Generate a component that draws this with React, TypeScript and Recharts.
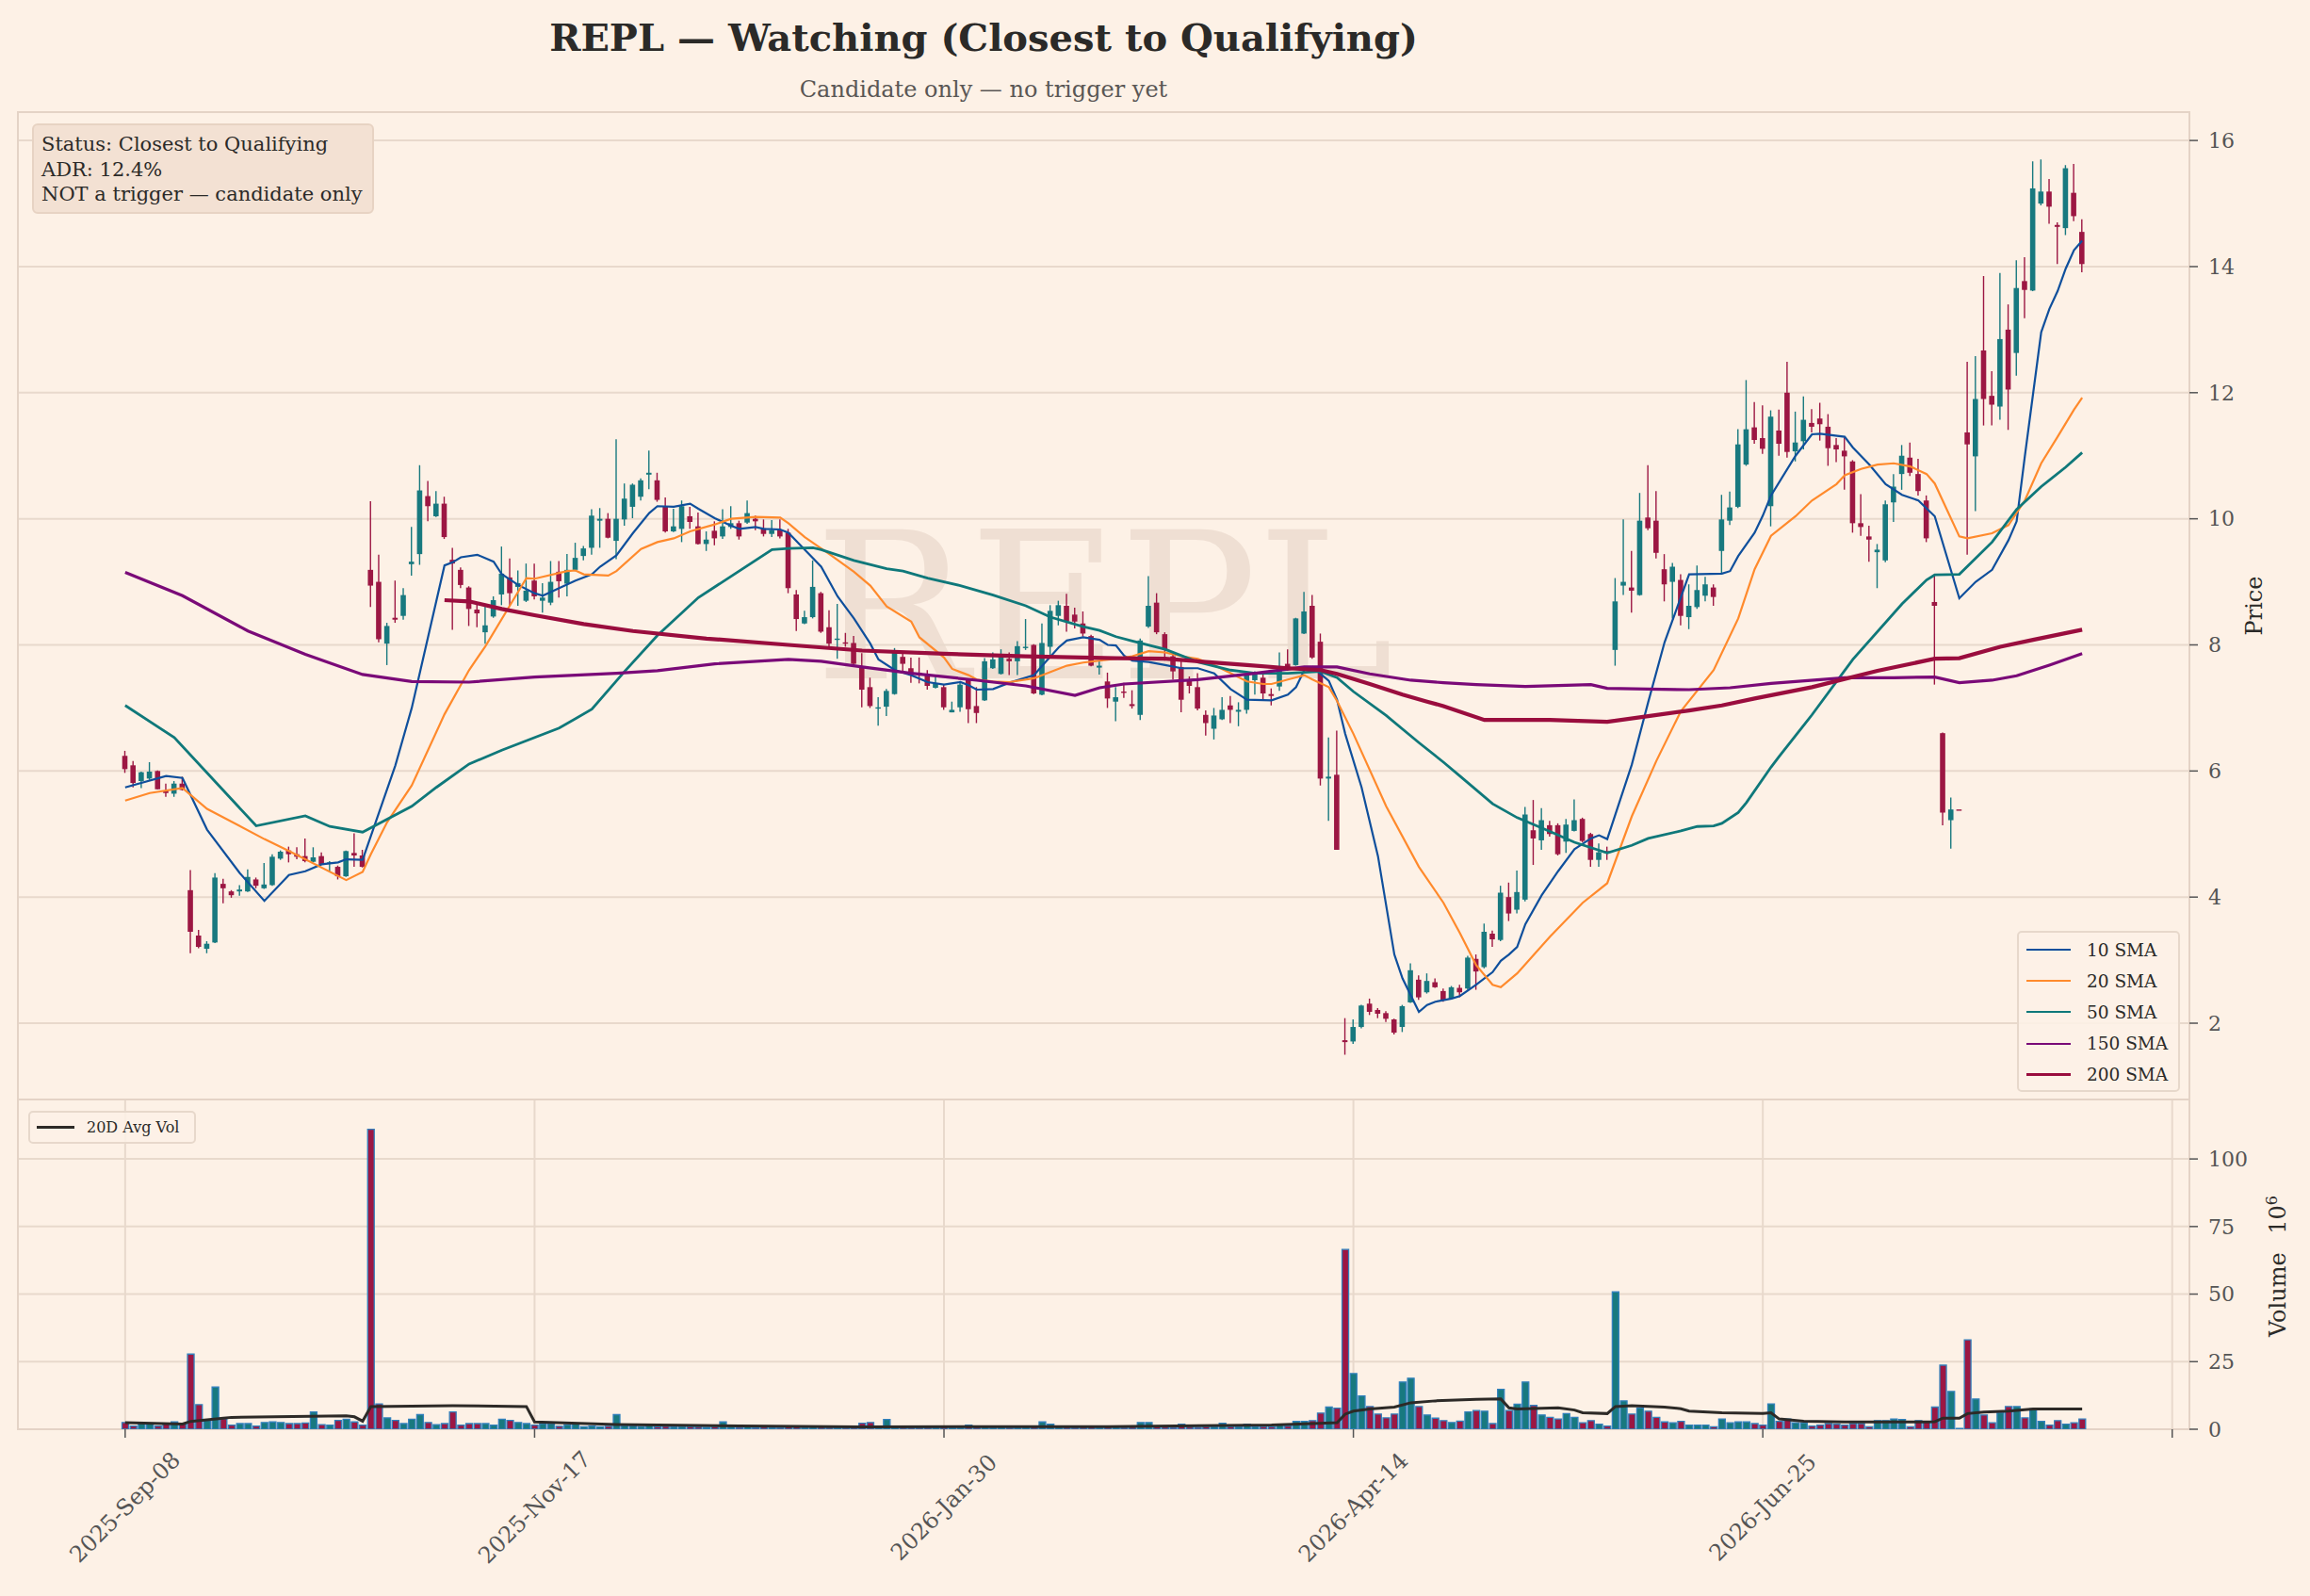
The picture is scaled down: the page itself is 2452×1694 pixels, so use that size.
import React from "react";
import {
  Bar,
  CartesianGrid,
  Cell,
  ComposedChart,
  Line,
  ReferenceArea,
  XAxis,
  YAxis,
} from "recharts";

// bar index 0..239, ticks every 50 bars
const DATE_TICKS = [0, 50, 100, 150, 200, 250];
const DATE_LABELS = ["2025-Sep-08", "2025-Nov-17", "2026-Jan-30", "2026-Apr-14", "2026-Jun-25", ""];
const PRICE_TICKS = [2, 4, 6, 8, 10, 12, 14, 16];
const VOLUME_TICKS = [0, 25, 50, 75, 100];

const OPEN = [
  6.24, 6.09, 5.84, 5.88, 6.0, 5.69, 5.64, 5.8, 4.11, 3.39,
  3.18, 3.28, 4.21, 4.09, 4.09, 4.09, 4.28, 4.14, 4.19, 4.61,
  4.74, 4.68, 4.65, 4.56, 4.65, 4.53, 4.48, 4.33, 4.7, 4.66,
  9.19, 9.0, 8.02, 8.43, 8.46, 9.28, 9.44, 10.36, 10.04, 10.24,
  9.35, 9.19, 8.91, 8.56, 8.2, 8.45, 8.8, 9.07, 8.92, 8.7,
  9.02, 8.7, 8.67, 9.16, 8.97, 9.19, 9.41, 9.54, 9.97, 10.0,
  9.65, 9.99, 10.19, 10.35, 10.7, 10.61, 10.2, 9.8, 9.84, 10.04,
  9.88, 9.6, 9.81, 9.72, 9.87, 9.93, 9.94, 10.0, 9.85, 9.76,
  9.83, 9.78, 8.8, 8.34, 8.44, 8.82, 8.28, 8.08, 8.04, 8.03,
  7.65, 7.33, 6.99, 7.02, 7.22, 7.81, 7.63, 7.56, 7.53, 7.32,
  7.33, 6.93, 7.01, 7.46, 7.03, 7.12, 7.63, 7.54, 7.78, 7.74,
  7.95, 8.0, 7.21, 7.97, 8.46, 8.62, 8.48, 8.34, 8.14, 7.64,
  7.42, 7.1, 7.26, 7.06, 6.89, 8.29, 8.67, 8.17, 7.82, 7.65,
  7.45, 7.33, 6.89, 6.67, 6.82, 7.04, 6.94, 6.97, 7.44, 7.48,
  7.22, 7.34, 7.7, 7.68, 8.18, 8.62, 8.05, 5.88, 5.94, 1.73,
  1.71, 1.94, 2.31, 2.21, 2.16, 2.06, 1.94, 2.33, 2.69, 2.49,
  2.65, 2.51, 2.39, 2.56, 2.55, 3.02, 2.89, 3.42, 3.32, 4.0,
  3.8, 3.96, 5.06, 4.9, 5.14, 5.14, 4.88, 5.05, 5.24, 5.0,
  4.59, 4.73, 7.92, 8.94, 8.91, 8.79, 10.02, 9.97, 9.2, 9.0,
  9.03, 8.44, 8.6, 8.78, 8.91, 9.49, 9.97, 10.19, 10.86, 11.45,
  11.28, 10.2, 11.4, 12.0, 11.07, 11.23, 11.52, 11.59, 11.46, 11.17,
  11.08, 10.91, 9.93, 9.72, 9.47, 9.34, 10.26, 10.71, 10.97, 10.71,
  10.29, 8.68, 6.6, 5.22, 5.39, 11.37, 10.99, 12.67, 11.95, 11.78,
  13.0, 12.63, 13.77, 13.62, 15.0, 15.19, 14.66, 14.61, 15.17, 14.55,
];

const HIGH = [
  6.32, 6.16, 5.99, 6.14, 6.01, 5.8, 5.84, 5.91, 4.43, 3.48,
  3.3, 4.38, 4.29, 4.11, 4.19, 4.44, 4.31, 4.54, 4.68, 4.74,
  4.8, 4.79, 4.93, 4.79, 4.71, 4.57, 4.5, 4.74, 5.01, 4.75,
  10.28, 9.43, 8.35, 9.02, 8.9, 9.87, 10.85, 10.6, 10.44, 10.35,
  9.54, 9.23, 8.93, 8.67, 8.61, 8.77, 9.56, 9.37, 9.18, 9.29,
  9.29, 8.98, 9.33, 9.33, 9.44, 9.62, 9.57, 10.15, 10.17, 10.09,
  11.26, 10.56, 10.56, 10.64, 11.08, 10.73, 10.34, 10.16, 10.29, 10.19,
  10.1, 9.8, 9.96, 10.15, 10.2, 9.97, 10.29, 10.05, 9.99, 9.98,
  9.99, 9.84, 8.87, 8.54, 9.34, 8.84, 8.55, 8.65, 8.19, 8.14,
  7.87, 7.48, 7.17, 7.3, 7.95, 7.9, 7.8, 7.8, 7.6, 7.5,
  7.38, 7.1, 7.4, 7.47, 7.33, 7.79, 7.88, 7.93, 7.88, 8.06,
  8.41, 8.01, 8.34, 8.63, 8.7, 8.81, 8.59, 8.53, 8.16, 7.75,
  7.56, 7.33, 7.4, 7.28, 8.1, 9.09, 8.82, 8.2, 7.85, 7.75,
  7.5, 7.55, 6.96, 7.0, 7.17, 7.19, 7.09, 7.57, 7.58, 7.53,
  7.31, 7.88, 7.93, 8.43, 8.84, 8.79, 8.18, 6.53, 6.64, 2.08,
  2.06, 2.29, 2.39, 2.24, 2.19, 2.07, 2.29, 2.95, 2.76, 2.79,
  2.71, 2.55, 2.59, 2.61, 3.07, 3.09, 3.58, 3.47, 4.18, 4.23,
  4.42, 5.43, 5.54, 5.41, 5.21, 5.17, 5.24, 5.55, 5.26, 5.02,
  4.85, 4.8, 9.06, 9.99, 9.49, 10.41, 10.85, 10.44, 9.44, 9.3,
  9.12, 8.96, 9.26, 9.08, 8.96, 10.38, 10.43, 11.42, 12.2, 11.85,
  11.8, 11.72, 11.73, 12.49, 11.7, 11.94, 11.74, 11.84, 11.66, 11.28,
  11.29, 10.93, 10.39, 9.89, 9.6, 10.29, 10.71, 11.17, 11.21, 10.95,
  10.37, 9.12, 6.61, 5.58, 5.39, 12.49, 12.58, 13.85, 12.34, 13.9,
  13.4, 14.1, 14.15, 15.67, 15.7, 15.39, 14.7, 15.61, 15.63, 14.75,
];

const LOW = [
  5.97, 5.74, 5.73, 5.86, 5.71, 5.59, 5.59, 5.69, 3.11, 3.19,
  3.11, 3.27, 3.9, 3.99, 4.02, 4.08, 4.14, 4.13, 4.18, 4.59,
  4.55, 4.6, 4.55, 4.55, 4.51, 4.4, 4.28, 4.32, 4.48, 4.47,
  8.6, 8.04, 7.68, 8.35, 8.4, 9.1, 9.27, 9.96, 10.03, 9.68,
  8.24, 8.9, 8.3, 8.28, 8.02, 8.43, 8.63, 8.62, 8.62, 8.68,
  8.72, 8.51, 8.63, 8.75, 8.77, 9.17, 9.34, 9.43, 9.54, 9.69,
  9.36, 9.89, 10.01, 10.29, 10.47, 10.27, 9.78, 9.79, 9.63, 9.84,
  9.59, 9.49, 9.58, 9.68, 9.84, 9.67, 9.92, 9.82, 9.72, 9.71,
  9.69, 8.82, 8.22, 8.33, 8.42, 8.19, 7.97, 7.78, 7.97, 7.65,
  7.01, 7.0, 6.72, 6.87, 7.21, 7.57, 7.4, 7.39, 7.29, 7.31,
  6.97, 6.93, 6.94, 6.76, 6.76, 7.11, 7.62, 7.53, 7.52, 7.52,
  7.92, 7.22, 7.2, 7.82, 8.31, 8.21, 8.26, 8.13, 7.66, 7.53,
  7.0, 6.79, 7.16, 6.99, 6.81, 8.27, 8.17, 7.75, 7.45, 6.93,
  7.23, 6.96, 6.56, 6.5, 6.81, 6.76, 6.71, 6.91, 7.21, 7.14,
  7.04, 7.27, 7.59, 7.67, 8.17, 7.78, 5.77, 5.21, 4.75, 1.5,
  1.67, 1.92, 2.13, 2.08, 2.02, 1.82, 1.86, 2.32, 2.37, 2.47,
  2.56, 2.34, 2.38, 2.41, 2.53, 2.53, 2.87, 3.21, 3.3, 3.62,
  3.74, 3.93, 4.51, 4.75, 4.96, 4.66, 4.7, 5.04, 4.87, 4.48,
  4.48, 4.59, 7.67, 8.79, 8.51, 8.78, 9.82, 9.37, 8.69, 8.42,
  8.31, 8.25, 8.57, 8.69, 8.62, 9.13, 9.9, 10.17, 10.84, 11.19,
  11.03, 9.88, 11.0, 10.97, 10.91, 11.1, 11.37, 11.24, 10.84, 10.9,
  10.46, 9.78, 9.73, 9.32, 8.9, 9.31, 9.95, 10.46, 10.68, 10.37,
  9.63, 7.37, 5.14, 4.77, 5.39, 9.43, 10.12, 11.48, 11.48, 11.57,
  11.41, 12.27, 13.18, 13.61, 14.97, 14.68, 14.04, 14.5, 14.72, 13.91,
];

const CLOSE = [
  6.03, 5.81, 5.98, 5.99, 5.71, 5.65, 5.8, 5.7, 3.45, 3.21,
  3.26, 4.31, 4.14, 4.03, 4.12, 4.32, 4.18, 4.2, 4.64, 4.72,
  4.68, 4.64, 4.57, 4.63, 4.52, 4.55, 4.33, 4.73, 4.66, 4.48,
  8.94, 8.09, 8.3, 8.4, 8.79, 9.32, 10.45, 10.2, 10.24, 9.71,
  9.29, 8.95, 8.57, 8.5, 8.31, 8.71, 9.13, 8.82, 8.98, 8.86,
  8.77, 8.75, 9.0, 9.01, 9.19, 9.38, 9.53, 10.05, 10.0, 9.7,
  10.0, 10.32, 10.54, 10.61, 10.73, 10.3, 9.8, 9.88, 10.2, 9.95,
  9.6, 9.67, 9.69, 9.88, 9.93, 9.72, 10.09, 9.96, 9.76, 9.82,
  9.72, 8.9, 8.41, 8.44, 8.92, 8.21, 8.02, 8.1, 8.02, 7.7,
  7.29, 7.03, 7.01, 7.27, 7.9, 7.7, 7.52, 7.52, 7.35, 7.39,
  7.01, 6.97, 7.37, 6.98, 6.92, 7.74, 7.77, 7.81, 7.74, 7.98,
  7.97, 7.23, 8.03, 8.54, 8.63, 8.37, 8.37, 8.18, 7.67, 7.67,
  7.15, 7.17, 7.24, 7.03, 8.07, 8.62, 8.2, 7.93, 7.58, 7.13,
  7.35, 6.99, 6.76, 6.88, 6.97, 6.97, 6.97, 7.52, 7.53, 7.23,
  7.19, 7.64, 7.6, 8.42, 8.53, 7.8, 5.88, 5.91, 4.75, 1.7,
  1.94, 2.28, 2.18, 2.15, 2.07, 1.85, 2.27, 2.84, 2.41, 2.67,
  2.57, 2.36, 2.57, 2.49, 3.04, 2.82, 3.45, 3.33, 4.07, 3.74,
  4.08, 5.31, 4.93, 5.22, 5.0, 4.68, 5.15, 5.22, 4.89, 4.59,
  4.71, 4.71, 8.69, 9.0, 8.86, 9.97, 9.85, 9.46, 8.96, 9.24,
  8.46, 8.62, 8.87, 8.96, 8.76, 9.99, 10.18, 11.18, 11.42, 11.25,
  11.11, 11.62, 11.19, 11.06, 11.21, 11.57, 11.46, 11.5, 11.12, 11.1,
  10.99, 9.93, 9.87, 9.67, 9.51, 10.23, 10.51, 11.0, 10.73, 10.44,
  9.69, 8.62, 5.34, 5.39, 5.39, 11.18, 11.9, 11.9, 11.81, 12.85,
  12.05, 13.66, 13.63, 15.24, 15.19, 14.95, 14.63, 15.56, 14.8, 14.04,
];

// millions of shares
const VOLUME = [
  2.5, 1.2, 2.1, 2.1, 1.2, 2.1, 2.7, 2.1, 27.8, 9.1,
  3.3, 15.6, 3.9, 1.5, 2.1, 2.1, 1.2, 2.5, 2.7, 2.5,
  2.1, 2.1, 2.3, 6.4, 1.7, 1.5, 3.3, 3.7, 2.7, 1.5,
  111, 9.4, 4.2, 3.3, 2.1, 3.7, 5.4, 2.5, 1.7, 2.1,
  6.4, 1.5, 2.1, 2.1, 2.1, 1.5, 3.7, 3.3, 2.5, 2.1,
  1.5, 2.1, 2.1, 1.1, 1.7, 2.1, 0.9, 1.2, 0.9, 1.1,
  5.4, 1.3, 1.2, 1.0, 1.4, 0.9, 1.1, 0.8, 1.0, 0.9,
  0.8, 0.7, 0.9, 2.7, 0.8, 0.7, 0.9, 0.6, 0.8, 0.7,
  0.6, 1.1, 0.9, 0.7, 1.0, 0.8, 0.7, 0.6, 0.6, 0.8,
  2.2, 2.5, 1.2, 3.6, 1.0, 0.8, 0.7, 0.6, 0.7, 0.6,
  0.8, 0.6, 0.7, 1.5, 0.8, 0.9, 0.7, 0.8, 0.6, 0.7,
  0.8, 1.2, 2.7, 1.9, 1.0, 0.8, 0.7, 0.8, 0.9, 0.7,
  1.2, 0.8, 0.7, 0.8, 2.5, 2.5, 1.2, 0.8, 0.7, 1.9,
  0.8, 0.7, 0.9, 0.8, 2.2, 0.9, 0.8, 1.9, 0.9, 1.0,
  0.9, 1.9, 1.2, 2.9, 2.9, 3.2, 6.0, 8.2, 7.8, 66.5,
  20.6, 12.3, 8.4, 5.6, 4.2, 5.6, 17.5, 18.9, 8.4, 5.3,
  4.1, 3.2, 2.5, 3.0, 6.4, 6.9, 6.7, 2.1, 14.8, 6.9,
  9.3, 17.5, 8.8, 5.3, 4.4, 3.8, 5.8, 4.4, 2.4, 3.2,
  1.9, 1.2, 50.8, 10.5, 5.6, 7.9, 6.7, 4.4, 2.7, 2.4,
  2.9, 1.5, 1.5, 1.5, 0.9, 3.8, 2.4, 2.7, 2.7, 2.1,
  1.5, 9.4, 2.9, 3.8, 2.4, 2.4, 1.2, 1.5, 2.1, 1.9,
  1.5, 2.1, 2.1, 0.9, 3.2, 3.2, 3.8, 3.6, 0.9, 3.2,
  2.9, 8.2, 23.7, 14.0, 0.3, 33.1, 11.2, 5.3, 2.4, 6.1,
  8.4, 8.4, 4.2, 7.5, 2.9, 1.5, 3.2, 1.9, 2.4, 3.8,
];

// moving averages as [bar, value]
const SMA10 = [
  [0, 5.74], [5, 5.92], [7, 5.89], [10, 5.07], [14, 4.38], [17, 3.94], [20, 4.35], [22, 4.41],
  [24, 4.52], [26, 4.55], [27, 4.6], [29, 4.59], [33, 6.09], [35, 7.0], [39, 9.26], [40, 9.31],
  [41, 9.39], [43, 9.43], [45, 9.32], [46, 9.12], [48, 8.95], [50, 8.82], [51, 8.78], [53, 8.9],
  [55, 9.02], [57, 9.12], [58, 9.24], [60, 9.42], [62, 9.77], [64, 10.09], [65, 10.2], [67, 10.19],
  [69, 10.24], [70, 10.16], [72, 10.01], [74, 9.89], [75, 9.84], [77, 9.87], [78, 9.84], [80, 9.83],
  [81, 9.78], [83, 9.51], [85, 9.24], [87, 8.77], [89, 8.42], [91, 8.02], [92, 7.77], [94, 7.6],
  [96, 7.52], [98, 7.41], [100, 7.37], [102, 7.41], [103, 7.36], [104, 7.29], [106, 7.3], [108, 7.4],
  [111, 7.52], [112, 7.67], [114, 7.96], [115, 8.07], [117, 8.12], [119, 8.08], [120, 8.0], [121, 7.99],
  [122, 7.83], [123, 7.75], [125, 7.73], [127, 7.68], [129, 7.63], [131, 7.63], [133, 7.55], [135, 7.3],
  [137, 7.13], [140, 7.12], [142, 7.21], [143, 7.33], [144, 7.6], [145, 7.65], [147, 7.43], [148, 7.13],
  [149, 6.59], [151, 5.74], [153, 4.65], [155, 3.09], [156, 2.71], [158, 2.18], [159, 2.29], [160, 2.34],
  [162, 2.39], [163, 2.43], [165, 2.61], [167, 2.81], [168, 2.99], [169, 3.09], [170, 3.21], [171, 3.57],
  [173, 4.03], [175, 4.41], [177, 4.76], [179, 4.93], [180, 4.98], [181, 4.92], [184, 6.1], [186, 7.09],
  [188, 8.04], [191, 9.12], [195, 9.13], [196, 9.17], [197, 9.41], [199, 9.78], [200, 10.05], [201, 10.37],
  [204, 11.0], [206, 11.34], [207, 11.35], [210, 11.3], [211, 11.13], [213, 10.86], [215, 10.55], [217, 10.38],
  [219, 10.29], [221, 10.04], [224, 8.74], [226, 9.0], [228, 9.19], [230, 9.66], [231, 9.96], [232, 10.99],
  [234, 12.96], [235, 13.33], [236, 13.61], [237, 13.97], [238, 14.26], [239, 14.41],
];

const SMA20 = [
  [0, 5.53], [3, 5.65], [7, 5.73], [10, 5.4], [17, 4.92], [20, 4.73], [27, 4.27], [29, 4.4],
  [30, 4.68], [32, 5.19], [35, 5.77], [39, 6.9], [42, 7.6], [44, 7.98], [49, 9.06], [50, 9.05],
  [54, 9.17], [55, 9.18], [56, 9.12], [59, 9.1], [60, 9.17], [63, 9.52], [65, 9.63], [67, 9.69],
  [69, 9.8], [72, 9.91], [74, 10.0], [77, 10.03], [80, 10.02], [81, 9.93], [83, 9.71], [86, 9.44],
  [89, 9.16], [91, 8.94], [93, 8.61], [96, 8.37], [97, 8.12], [100, 7.8], [101, 7.62], [103, 7.52],
  [104, 7.45], [106, 7.42], [108, 7.41], [111, 7.47], [113, 7.57], [115, 7.67], [117, 7.72], [119, 7.75],
  [121, 7.78], [123, 7.82], [125, 7.9], [127, 7.88], [129, 7.82], [131, 7.78], [133, 7.68], [135, 7.55],
  [137, 7.42], [139, 7.38], [140, 7.38], [142, 7.45], [144, 7.52], [145, 7.45], [147, 7.33], [148, 7.11],
  [150, 6.59], [154, 5.44], [158, 4.48], [161, 3.91], [163, 3.43], [165, 2.92], [167, 2.61], [168, 2.57],
  [170, 2.79], [174, 3.37], [178, 3.91], [181, 4.22], [184, 5.28], [187, 6.16], [190, 6.95], [194, 7.6],
  [197, 8.42], [199, 9.2], [201, 9.73], [204, 10.04], [206, 10.29], [209, 10.55], [210, 10.69], [212, 10.79],
  [214, 10.86], [216, 10.88], [218, 10.83], [220, 10.71], [221, 10.56], [224, 9.72], [225, 9.69], [228, 9.77],
  [230, 9.9], [232, 10.29], [234, 10.88], [236, 11.3], [238, 11.73], [239, 11.92],
];

const SMA50 = [
  [0, 7.04], [6, 6.53], [16, 5.13], [22, 5.29], [25, 5.12], [29, 5.03], [35, 5.44], [38, 5.74],
  [42, 6.11], [46, 6.33], [53, 6.68], [57, 6.98], [61, 7.58], [65, 8.15], [70, 8.75], [79, 9.51],
  [81, 9.53], [84, 9.54], [85, 9.51], [89, 9.34], [93, 9.21], [95, 9.17], [98, 9.06], [102, 8.94],
  [106, 8.79], [110, 8.62], [113, 8.44], [117, 8.29], [119, 8.23], [121, 8.13], [123, 8.06], [127, 7.93],
  [131, 7.73], [135, 7.6], [138, 7.55], [142, 7.55], [146, 7.58], [148, 7.48], [150, 7.26], [154, 6.88],
  [158, 6.45], [161, 6.14], [163, 5.92], [167, 5.48], [170, 5.26], [174, 5.04], [177, 4.87], [181, 4.7],
  [184, 4.82], [186, 4.93], [190, 5.05], [192, 5.12], [194, 5.13], [195, 5.17], [197, 5.34], [198, 5.5],
  [201, 6.06], [202, 6.23], [206, 6.89], [211, 7.77], [217, 8.65], [220, 9.03], [221, 9.11], [224, 9.12],
  [228, 9.63], [231, 10.15], [234, 10.51], [237, 10.82], [239, 11.05],
];

const SMA150 = [
  [0, 9.15], [7, 8.78], [15, 8.22], [22, 7.85], [29, 7.53], [35, 7.42], [42, 7.41], [50, 7.49],
  [60, 7.55], [65, 7.59], [72, 7.7], [81, 7.77], [85, 7.74], [90, 7.65], [96, 7.55], [104, 7.44],
  [110, 7.35], [116, 7.2], [119, 7.32], [122, 7.38], [131, 7.45], [138, 7.55], [144, 7.65], [148, 7.65],
  [152, 7.54], [157, 7.44], [161, 7.4], [165, 7.37], [171, 7.34], [179, 7.37], [181, 7.31], [186, 7.3],
  [191, 7.29], [196, 7.32], [201, 7.39], [210, 7.48], [216, 7.48], [221, 7.49], [224, 7.4], [228, 7.44],
  [231, 7.51], [235, 7.68], [239, 7.86],
];

const SMA200 = [
  [39, 8.71], [42, 8.69], [46, 8.57], [50, 8.47], [56, 8.33], [62, 8.22], [71, 8.1], [81, 8.0],
  [90, 7.91], [100, 7.86], [110, 7.82], [121, 7.79], [127, 7.78], [137, 7.68], [142, 7.63], [146, 7.6],
  [148, 7.54], [152, 7.38], [156, 7.21], [159, 7.1], [161, 7.03], [166, 6.81], [174, 6.81], [181, 6.78],
  [186, 6.87], [191, 6.96], [195, 7.04], [199, 7.15], [206, 7.33], [214, 7.59], [221, 7.78], [224, 7.79],
  [229, 7.97], [233, 8.08], [239, 8.24],
];

const AVG_VOL20 = [
  [0, 2.4], [7, 1.9], [8, 2.9], [12, 4.1], [13, 4.4], [27, 5.0], [28, 4.6], [29, 3.0],
  [30, 8.4], [40, 8.7], [49, 8.4], [50, 2.7], [60, 1.7], [75, 1.2], [90, 0.9], [120, 1.0],
  [140, 1.6], [145, 2.1], [148, 2.4], [149, 5.6], [150, 6.7], [152, 7.5], [155, 8.2], [157, 9.8],
  [160, 10.5], [165, 11.1], [168, 11.2], [169, 7.9], [170, 7.5], [175, 7.9], [177, 7.1], [178, 6.1],
  [181, 5.8], [182, 8.4], [184, 8.7], [188, 8.2], [190, 7.6], [191, 6.7], [195, 6.1], [200, 5.8],
  [201, 6.1], [202, 3.8], [205, 3.0], [210, 2.7], [220, 2.7], [221, 2.8], [222, 4.1], [224, 4.1],
  [225, 5.8], [227, 6.4], [230, 6.7], [233, 7.5], [239, 7.5],
];

const SERIES = [
  { key: "sma10", name: "10 SMA", knots: SMA10, color: "#0f4f9c", width: 2.2 },
  { key: "sma20", name: "20 SMA", knots: SMA20, color: "#ff8a2c", width: 2.2 },
  { key: "sma50", name: "50 SMA", knots: SMA50, color: "#0f787a", width: 2.8 },
  { key: "sma150", name: "150 SMA", knots: SMA150, color: "#7a0a78", width: 3.2 },
  { key: "sma200", name: "200 SMA", knots: SMA200, color: "#9a0d3e", width: 4.2 },
];

const UP = "#18797f";
const DOWN = "#9c1743";
const BG = "#fdf1e6";
const GRID = "#e8d9cc";
const X_DOMAIN: [number, number] = [-13.1, 252.1];
const PRICE_DOMAIN: [number, number] = [0.79, 16.45];
const VOLUME_DOMAIN: [number, number] = [0, 122];

const toMap = (pairs: number[][]) => new Map(pairs.map(([i, v]) => [i, v]));
const smaMaps = SERIES.map((s) => toMap(s.knots));
const avgMap = toMap(AVG_VOL20);

const priceData = OPEN.map((open, i) => {
  const row: Record<string, any> = {
    i,
    open,
    high: HIGH[i],
    low: LOW[i],
    close: CLOSE[i],
    range: [LOW[i], HIGH[i]],
  };
  SERIES.forEach((s, k) => {
    row[s.key] = smaMaps[k].get(i) ?? null;
  });
  return row;
});

const volumeData = VOLUME.map((vol, i) => ({
  i,
  vol,
  up: CLOSE[i] > OPEN[i],
  avg: avgMap.get(i) ?? null,
}));

function Candle(props: any) {
  const { x, y, width, height, payload } = props;
  const { open, close, high, low } = payload;
  const color = close > open ? UP : DOWN;
  const cx = x + width / 2;
  const top = Math.min(y, y + height);
  const h = Math.abs(height);
  const yOf = (v: number) => (high === low ? top : top + ((high - v) / (high - low)) * h);
  const bodyTop = yOf(Math.max(open, close));
  const bodyBottom = yOf(Math.min(open, close));
  const bw = 5.6;
  return (
    <g>
      <line x1={cx} x2={cx} y1={top} y2={top + h} stroke={color} strokeWidth={1.4} />
      <rect
        x={cx - bw / 2}
        y={bodyTop}
        width={bw}
        height={Math.max(bodyBottom - bodyTop, 1.4)}
        fill={color}
      />
    </g>
  );
}

function DateTick(props: any) {
  const { x, y, payload } = props;
  const label = DATE_LABELS[DATE_TICKS.indexOf(payload.value)] ?? "";
  if (!label) return null;
  const cy = y + 66;
  return (
    <text
      x={x}
      y={cy}
      transform={`rotate(-45 ${x} ${cy})`}
      textAnchor="middle"
      dominantBaseline="central"
      fontSize={24}
      fill="#555"
    >
      {label}
    </text>
  );
}

const tickStyle = { fontSize: 22, fill: "#555" };

export default function App() {
  return (
    <div
      style={{
        position: "absolute",
        left: 0,
        top: 0,
        width: 2452,
        height: 1694,
        background: BG,
        fontFamily: "'DejaVu Serif', serif",
        overflow: "hidden",
      }}
    >
      <div
        style={{
          position: "absolute",
          left: 344,
          width: 1400,
          top: 18,
          textAlign: "center",
          fontSize: 40,
          lineHeight: "44px",
          fontWeight: 700,
          color: "#2b2a28",
        }}
      >
        REPL — Watching (Closest to Qualifying)
      </div>
      <div
        style={{
          position: "absolute",
          left: 344,
          width: 1400,
          top: 81,
          textAlign: "center",
          fontSize: 24,
          lineHeight: "28px",
          color: "#5a5755",
        }}
      >
        Candidate only — no trigger yet
      </div>

      <svg
        width={2452}
        height={1694}
        style={{ position: "absolute", left: 0, top: 0 }}
      >
        <text x={1172} y={720} textAnchor="middle" fontSize={218} fill="#efdfd3">
          REPL
        </text>
      </svg>

      <div style={{ position: "absolute", left: 0, top: 0 }}>
        <ComposedChart
          width={2452}
          height={1167}
          data={priceData}
          margin={{ top: 119, right: 0, bottom: 0, left: 19 }}
        >
          <CartesianGrid stroke={GRID} strokeWidth={2} />
          <XAxis
            dataKey="i"
            type="number"
            domain={X_DOMAIN}
            ticks={DATE_TICKS}
            tick={false}
            tickLine={false}
            axisLine={false}
            height={0}
          />
          <YAxis
            orientation="right"
            width={128}
            domain={PRICE_DOMAIN}
            ticks={PRICE_TICKS}
            allowDataOverflow
            axisLine={false}
            tickLine={{ stroke: "#555", strokeWidth: 1.5 }}
            tickSize={9}
            tickMargin={11}
            tick={tickStyle}
          />
          <ReferenceArea
            x1={X_DOMAIN[0]}
            x2={X_DOMAIN[1]}
            y1={PRICE_DOMAIN[0]}
            y2={PRICE_DOMAIN[1]}
            fill="none"
            fillOpacity={0}
            stroke="#e4d3c6"
            strokeWidth={2}
          />
          <Bar dataKey="range" barSize={6} shape={Candle} isAnimationActive={false} />
          {SERIES.map((s) => (
            <Line
              key={s.key}
              dataKey={s.key}
              type="linear"
              stroke={s.color}
              strokeWidth={s.width}
              dot={false}
              connectNulls
              isAnimationActive={false}
            />
          ))}
        </ComposedChart>
      </div>

      <div style={{ position: "absolute", left: 0, top: 1167 }}>
        <ComposedChart
          width={2452}
          height={527}
          data={volumeData}
          margin={{ top: 0, right: 0, bottom: 0, left: 19 }}
        >
          <CartesianGrid stroke={GRID} strokeWidth={2} />
          <XAxis
            dataKey="i"
            type="number"
            domain={X_DOMAIN}
            ticks={DATE_TICKS}
            height={177}
            axisLine={false}
            tickLine={{ stroke: "#555", strokeWidth: 1.5 }}
            tickSize={9}
            tickMargin={8}
            tick={<DateTick />}
            interval={0}
          />
          <YAxis
            orientation="right"
            width={128}
            domain={VOLUME_DOMAIN}
            ticks={VOLUME_TICKS}
            allowDataOverflow
            axisLine={false}
            tickLine={{ stroke: "#555", strokeWidth: 1.5 }}
            tickSize={9}
            tickMargin={11}
            tick={tickStyle}
          />
          <ReferenceArea
            x1={X_DOMAIN[0]}
            x2={X_DOMAIN[1]}
            y1={VOLUME_DOMAIN[0]}
            y2={VOLUME_DOMAIN[1]}
            fill="none"
            fillOpacity={0}
            stroke="#e4d3c6"
            strokeWidth={2}
          />
          <Bar dataKey="vol" barSize={7} isAnimationActive={false}>
            {volumeData.map((d) => (
              <Cell key={d.i} fill={d.up ? UP : DOWN} stroke="#3381bd" strokeWidth={1.3} />
            ))}
          </Bar>
          <Line
            dataKey="avg"
            type="linear"
            stroke="#2d2a27"
            strokeWidth={3}
            dot={false}
            connectNulls
            isAnimationActive={false}
          />
        </ComposedChart>
      </div>

      {/* status box */}
      <div
        style={{
          position: "absolute",
          left: 34,
          top: 131,
          width: 363,
          height: 96,
          boxSizing: "border-box",
          background: "#f3e1d3",
          border: "2px solid #e7d3c3",
          borderRadius: 6,
          padding: "7px 0 0 8px",
          fontSize: 21,
          lineHeight: "26.5px",
          color: "#2b2a28",
          whiteSpace: "nowrap",
        }}
      >
        <div>Status: Closest to Qualifying</div>
        <div>ADR: 12.4%</div>
        <div>NOT a trigger — candidate only</div>
      </div>

      {/* price legend */}
      <div
        style={{
          position: "absolute",
          left: 2141,
          top: 988,
          width: 173,
          height: 171,
          boxSizing: "border-box",
          background: "rgba(253,241,230,0.85)",
          border: "2px solid #e7d8cb",
          borderRadius: 5,
        }}
      >
        {SERIES.map((s, k) => (
          <div
            key={s.key}
            style={{
              position: "absolute",
              left: 0,
              top: 3 + k * 33.2,
              height: 30,
              display: "flex",
              alignItems: "center",
            }}
          >
            <div
              style={{
                marginLeft: 8,
                width: 47,
                height: 0,
                borderTop: `${Math.max(s.width - 0.6, 2)}px solid ${s.color}`,
              }}
            />
            <div style={{ marginLeft: 17, fontSize: 18.5, color: "#2b2a28", whiteSpace: "nowrap" }}>
              {s.name}
            </div>
          </div>
        ))}
      </div>

      {/* volume legend */}
      <div
        style={{
          position: "absolute",
          left: 30,
          top: 1179,
          width: 178,
          height: 35,
          boxSizing: "border-box",
          background: "rgba(253,241,230,0.85)",
          border: "2px solid #e7d8cb",
          borderRadius: 5,
          display: "flex",
          alignItems: "center",
        }}
      >
        <div style={{ marginLeft: 7, width: 40, height: 0, borderTop: "3px solid #2d2a27" }} />
        <div style={{ marginLeft: 13, fontSize: 16, color: "#2b2a28", whiteSpace: "nowrap" }}>
          20D Avg Vol
        </div>
      </div>

      {/* axis titles */}
      <div
        style={{
          position: "absolute",
          left: 2393,
          top: 643,
          transform: "translate(-50%, -50%) rotate(-90deg)",
          fontSize: 24,
          color: "#2b2a28",
          whiteSpace: "nowrap",
        }}
      >
        Price
      </div>
      <div
        style={{
          position: "absolute",
          left: 2417,
          top: 1344,
          transform: "translate(-50%, -50%) rotate(-90deg)",
          fontSize: 24,
          color: "#2b2a28",
          whiteSpace: "nowrap",
        }}
      >
        Volume {"\u2002"}10<sup style={{ fontSize: 16 }}>6</sup>
      </div>
    </div>
  );
}
